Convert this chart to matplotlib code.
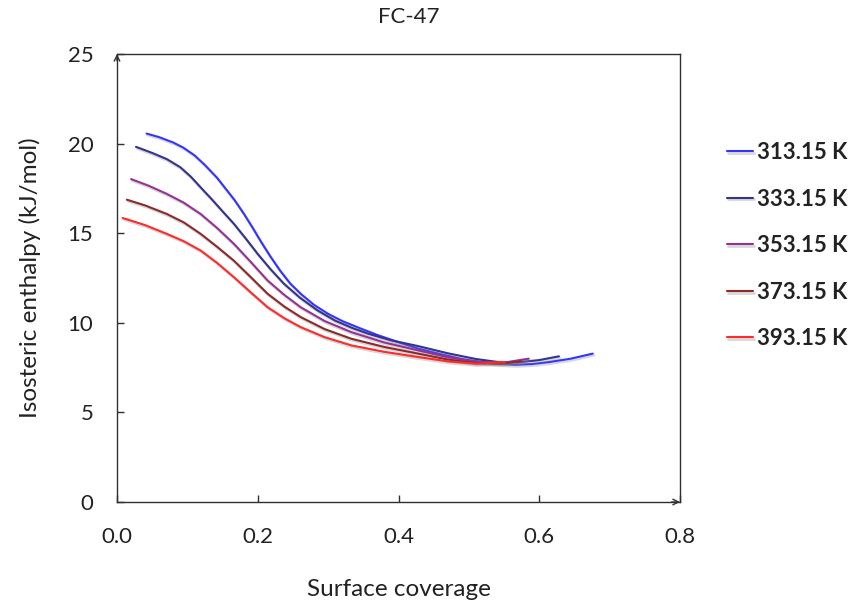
import matplotlib
matplotlib.use("Agg")
import matplotlib.pyplot as plt
import matplotlib.patheffects as pe

# ---- data ----
labels = ["313.15 K", "333.15 K", "353.15 K", "373.15 K", "393.15 K"]
colors = ["#3434ff", "#34348f", "#963296", "#8c2a2a", "#ff2a2a"]

x_313 = [0.042, 0.060, 0.080, 0.094, 0.110, 0.125, 0.142, 0.155, 0.167, 0.180, 0.192, 0.205, 0.218, 0.232, 0.246, 0.261, 0.280, 0.300, 0.320, 0.345, 0.370, 0.400, 0.428, 0.460, 0.490, 0.519, 0.545, 0.566, 0.590, 0.614, 0.645, 0.676]
y_313 = [20.56, 20.36, 20.06, 19.78, 19.35, 18.80, 18.10, 17.45, 16.85, 16.10, 15.35, 14.50, 13.70, 12.90, 12.20, 11.62, 11.00, 10.50, 10.10, 9.70, 9.32, 8.92, 8.56, 8.25, 7.98, 7.81, 7.70, 7.66, 7.70, 7.81, 8.00, 8.28]

x_333 = [0.027, 0.050, 0.071, 0.090, 0.105, 0.119, 0.135, 0.150, 0.166, 0.183, 0.200, 0.218, 0.237, 0.260, 0.285, 0.310, 0.335, 0.357, 0.390, 0.428, 0.470, 0.510, 0.540, 0.570, 0.600, 0.628]
y_333 = [19.82, 19.48, 19.13, 18.68, 18.15, 17.55, 16.88, 16.22, 15.53, 14.70, 13.84, 13.00, 12.19, 11.40, 10.69, 10.12, 9.70, 9.39, 9.02, 8.70, 8.30, 7.98, 7.82, 7.80, 7.92, 8.13]

x_353 = [0.020, 0.045, 0.071, 0.095, 0.119, 0.142, 0.166, 0.190, 0.214, 0.238, 0.261, 0.295, 0.333, 0.380, 0.428, 0.470, 0.510, 0.550, 0.585]
y_353 = [18.02, 17.65, 17.19, 16.70, 16.07, 15.30, 14.41, 13.40, 12.36, 11.55, 10.87, 10.10, 9.48, 8.90, 8.46, 8.08, 7.82, 7.78, 8.00]

x_373 = [0.014, 0.040, 0.071, 0.095, 0.119, 0.142, 0.166, 0.190, 0.214, 0.238, 0.261, 0.295, 0.333, 0.380, 0.428, 0.470, 0.510, 0.545, 0.575]
y_373 = [16.87, 16.55, 16.07, 15.60, 14.96, 14.25, 13.47, 12.55, 11.62, 10.90, 10.32, 9.65, 9.11, 8.65, 8.28, 7.95, 7.75, 7.72, 7.85]

x_393 = [0.008, 0.040, 0.071, 0.095, 0.119, 0.142, 0.166, 0.190, 0.214, 0.238, 0.261, 0.295, 0.333, 0.380, 0.428, 0.470, 0.510, 0.551]
y_393 = [15.85, 15.45, 14.96, 14.55, 14.03, 13.35, 12.55, 11.70, 10.87, 10.25, 9.76, 9.20, 8.74, 8.38, 8.09, 7.85, 7.72, 7.81]

xs = [x_313, x_333, x_353, x_373, x_393]
ys = [y_313, y_333, y_353, y_373, y_393]

x_ticks = [0.0, 0.2, 0.4, 0.6, 0.8]
y_ticks = [0, 5, 10, 15, 20, 25]

plt.rcParams['font.family'] = ['Lato', 'DejaVu Sans']

fig = plt.figure(figsize=(8.59, 6.02), dpi=100)
ax = fig.add_axes([117/859, 1 - 502/602, 563/859, 448/602])

shadow = [pe.SimpleLineShadow(offset=(0.8, -1.2), shadow_color="gray", alpha=0.3, linewidth=2.0), pe.Normal()]
for x, y, c, lab in zip(xs, ys, colors, labels):
    ax.plot(x, y, color=c, lw=1.5, label=lab, path_effects=shadow, solid_capstyle='round')

ax.set_xlim(0, 0.8)
ax.set_ylim(0, 25)
ax.set_xticks(x_ticks)
ax.set_xticklabels([f"{v:.1f}" for v in x_ticks])
ax.set_yticks(y_ticks)
for s in ax.spines.values():
    s.set_linewidth(1.0)
    s.set_color('#303030')
ax.tick_params(direction='in', length=5, width=1, labelsize=16, colors='#303030', labelcolor='#222222')
ax.tick_params(axis='y', pad=17)
ax.tick_params(axis='x', pad=18)

ax.annotate('', xy=(1.0, 0), xytext=(0.985, 0), xycoords='axes fraction',
            arrowprops=dict(arrowstyle='->', lw=1, color='#303030', shrinkA=0, shrinkB=0))
ax.annotate('', xy=(0, 1.0), xytext=(0, 0.985), xycoords='axes fraction',
            arrowprops=dict(arrowstyle='->', lw=1, color='#303030', shrinkA=0, shrinkB=0))

ax.set_xlabel("Surface coverage", fontsize=17.5, labelpad=23, color='#222222')
ax.set_ylabel("Isosteric enthalpy (kJ/mol)", fontsize=17.5, labelpad=19, color='#222222')
fig.text(409/859, 1 - 17/602, "FC-47", ha='center', va='center', fontsize=16, color='#222222')

leg = fig.legend(loc='upper left', bbox_to_anchor=(727/859, 1 - 142/602), frameon=False,
                 borderpad=0, borderaxespad=0,
                 handlelength=1.15, handletextpad=0.2, labelspacing=1.15,
                 prop={'weight': 'bold', 'size': 16})
for t in leg.get_texts():
    t.set_color('#222222')

fig.savefig("out.png", dpi=100)
